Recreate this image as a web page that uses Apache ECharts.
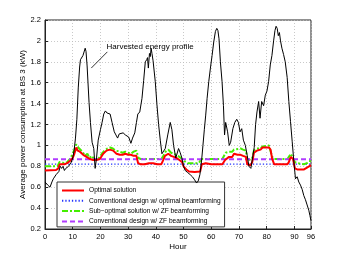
<!DOCTYPE html>
<html>
<head>
<meta charset="utf-8">
<script src="https://cdn.jsdelivr.net/npm/echarts@6/dist/echarts.min.js"></script>
<style>
html,body{margin:0;padding:0;background:#fff;}
#chart{width:343px;height:258px;}
</style>
</head>
<body>
<div id="chart"></div>
<script>
// ---- data ----
var xTickValues = [0, 10, 20, 30, 40, 50, 60, 70, 80, 90, 96];

var harvestHours = [0,1,1.8,2.5,3,4,5,5.5,6,6.5,7,7.5,8.5,9.5,10,10.5,11,11.5,12,12.5,12.8,13.3,13.7,14.0,14.5,14.8,15.2,15.9,16.4,17.0,17.6,18.1,18.6,19.2,20.0,20.6,21.2,21.8,22.4,23.0,23.5,24.2,25.0,25.6,26.2,26.8,27.4,28.2,29.0,29.6,30.2,31.0,31.6,32.4,33.0,33.5,34.2,35.0,35.6,36.2,36.7,37.0,37.3,37.7,38.0,38.3,38.6,39.0,39.8,40.4,41.0,41.6,42.2,42.8,43.4,44.3,45.2,45.8,46.4,47.2,48.2,48.8,49.4,50.0,50.6,51.5,52.4,53.2,54.0,54.7,55.3,55.9,56.5,57.0,57.5,58.0,58.5,59.1,59.7,60.3,60.9,61.5,62.0,62.4,62.8,63.3,63.9,64.4,64.8,65.2,65.9,66.5,67.0,67.8,68.5,69.2,69.8,70.4,71.0,71.6,72.3,73.0,73.6,74.3,75.0,75.5,76.0,76.5,77.1,77.6,78.2,78.9,79.5,80.1,80.7,81.3,81.9,82.5,83.0,83.4,83.8,84.2,84.6,85.0,85.5,86.1,86.7,87.4,88.0,88.6,89.2,89.8,90.4,91.0,91.6,92.2,92.8,93.4,94.0,94.6,95.2,95.6,96.0];
var harvestValues = [0.65,0.62,0.60,0.65,0.68,0.72,0.75,0.80,0.78,0.80,0.76,0.78,0.80,0.84,0.88,0.95,1.07,1.25,1.55,1.75,1.82,1.83,1.86,1.85,1.93,1.90,1.76,1.41,1.22,1.03,0.97,0.78,0.88,1.05,1.15,1.22,1.30,1.33,1.31,1.32,1.30,1.22,1.13,1.10,1.07,1.11,1.10,1.12,1.10,1.09,1.08,1.02,1.07,1.12,1.22,1.30,1.32,1.45,1.62,1.80,1.82,1.84,1.74,1.88,1.85,1.93,1.88,1.81,1.61,1.39,1.20,1.05,0.92,0.92,0.97,1.10,1.22,1.15,1.00,0.88,0.97,0.93,0.88,0.80,0.76,0.74,0.72,0.70,0.67,0.64,0.66,0.72,0.85,1.00,1.15,1.29,1.45,1.61,1.74,1.86,1.99,2.09,2.12,2.10,2.02,1.80,1.61,1.38,1.10,1.22,1.13,1.00,1.03,1.16,1.22,1.25,1.22,1.13,1.16,1.05,1.00,0.90,0.80,0.78,0.77,0.98,1.20,1.32,1.42,1.26,1.42,1.38,1.48,1.52,1.61,1.77,1.86,2.00,2.10,2.14,2.12,2.05,2.08,2.00,1.93,1.87,1.80,1.65,1.42,1.23,1.04,0.85,0.68,0.70,0.65,0.62,0.58,0.52,0.48,0.43,0.38,0.33,0.28];

var optHours = [0,4,4.8,5.3,6,7,8,9,10,10.6,11.3,11.8,12.6,13.8,15,16.2,17.4,18.6,19.8,21,22.2,23.4,24.6,25.8,27,28,29,30,31,32,33,33.6,34.5,36,37.5,39,40.5,42,42.5,43.3,44.5,45.5,46.5,47.5,48.5,49.5,50,51,52,54,56,56.6,58,60,62,64,65,66.4,67.6,68.2,69.5,70.6,71.5,72.5,73,74.2,74.8,75.4,76.5,77.8,78.5,80.8,81.4,82,82.7,87.5,88,88.7,89.5,90.2,91,93.5,94.1,95.3,96];
var optValues = [0.76,0.765,0.78,0.82,0.83,0.82,0.83,0.85,0.88,0.92,0.98,0.95,0.94,0.91,0.89,0.87,0.86,0.86,0.87,0.92,0.95,0.96,0.95,0.92,0.91,0.91,0.92,0.91,0.91,0.90,0.90,0.83,0.82,0.82,0.83,0.83,0.82,0.82,0.85,0.90,0.92,0.90,0.89,0.88,0.86,0.84,0.80,0.77,0.75,0.745,0.75,0.82,0.83,0.82,0.82,0.82,0.86,0.89,0.89,0.92,0.91,0.91,0.90,0.89,0.82,0.81,0.84,0.93,0.95,0.96,0.98,0.98,0.96,0.87,0.82,0.82,0.84,0.89,0.87,0.78,0.77,0.77,0.78,0.80,0.81];

var subHours = [0,4.5,5.2,6,7,8,9,10,10.6,11.3,12,12.6,13.5,14.5,15.3,16,17,17.8,18.5,19.5,20.5,21.5,22.5,23.5,24.5,25.5,27,28,29,30,31,32,33,33.7,34.5,42,42.5,43.5,44.5,45.5,46.5,48,49.5,50.3,51.5,55.5,56.5,64,65.2,66.4,67.6,68.2,70.6,71.5,72.5,73,74.2,74.8,75.4,76.5,77.8,78.5,80.8,81.4,82,82.7,87.5,88.7,89.5,90.2,91,93.5,94.5,95.3,96];
var subValues = [0.80,0.80,0.84,0.84,0.83,0.84,0.87,0.92,0.96,1.01,0.98,0.97,0.94,0.90,0.92,0.88,0.90,0.86,0.86,0.88,0.92,0.95,0.97,0.98,0.97,0.95,0.94,0.93,0.94,0.93,0.92,0.94,0.95,0.88,0.87,0.87,0.89,0.94,0.96,0.93,0.92,0.90,0.87,0.85,0.83,0.83,0.87,0.87,0.93,0.94,0.94,0.96,0.97,0.96,0.95,0.87,0.86,0.88,0.95,0.97,0.97,0.99,1.00,0.99,0.89,0.87,0.87,0.92,0.88,0.84,0.83,0.82,0.83,0.85,0.85];

var convHours = [0, 96];
var convOptValues = [0.82, 0.82];
var convZfValues = [0.867, 0.867];

var arrowFrom = [22.5, 1.895];
var arrowTo = [16.7, 1.74];
var labelAt = [22.2, 1.94];

var seriesNames = [
  'Optimal solution',
  'Conventional design w/ optimal beamforming',
  'Sub\u2212optimal solution w/ ZF beamforming',
  'Conventional design w/ ZF beamforming'
];

function zip(xs, ys) { return xs.map(function (x, i) { return [x, ys[i]]; }); }

var FONT = '"Liberation Sans", Arial, sans-serif';
var chart = echarts.init(document.getElementById('chart'), null, {renderer: 'canvas'});

chart.setOption({
  animation: false,
  backgroundColor: '#fff',
  textStyle: {fontFamily: FONT},
  grid: {left: 45, right: 32, top: 20, bottom: 29, show: true, borderColor: '#222', borderWidth: 1, backgroundColor: 'transparent'},
  xAxis: {
    type: 'value', min: 0, max: 96, interval: 10,
    name: 'Hour', nameLocation: 'middle', nameGap: 14, nameMoveOverlap: false,
    nameTextStyle: {fontSize: 8, color: '#000', fontFamily: FONT},
    axisLine: {show: true, lineStyle: {color: '#222', width: 1}},
    axisTick: {show: true, inside: true, length: 3, lineStyle: {color: '#222'}, customValues: xTickValues},
    axisLabel: {fontSize: 7.5, color: '#000', margin: 4, fontFamily: FONT, customValues: xTickValues},
    splitLine: {show: true, lineStyle: {color: '#bbb', type: [1, 2], width: 0.8}}
  },
  yAxis: {
    type: 'value', min: 0.2, max: 2.2, interval: 0.2,
    name: 'Average power consumption at BS 3 (kW)', nameLocation: 'middle', nameGap: 18, nameMoveOverlap: false,
    nameTextStyle: {fontSize: 8, color: '#000', fontFamily: FONT},
    axisLine: {show: true, lineStyle: {color: '#222', width: 1}},
    axisTick: {show: true, inside: true, length: 3, lineStyle: {color: '#222'}},
    axisLabel: {fontSize: 7.5, color: '#000', margin: 4, fontFamily: FONT,
      formatter: function (v) { return String(Math.round(v * 10) / 10); }},
    splitLine: {show: true, lineStyle: {color: '#bbb', type: [1, 2], width: 0.8}}
  },
  legend: {
    data: seriesNames,
    orient: 'vertical', left: 57, top: 182,
    padding: [5, 4, 2, 4], itemGap: 3.3, itemWidth: 22, itemHeight: 7,
    backgroundColor: '#fff', borderColor: '#333', borderWidth: 1,
    itemStyle: {opacity: 0},
    textStyle: {fontSize: 6.6, color: '#000', fontFamily: FONT},
    selectedMode: false
  },
  series: [
    {
      name: seriesNames[0], type: 'line', data: zip(optHours, optValues),
      symbol: 'none', z: 3,
      lineStyle: {color: '#ff0000', width: 2}, itemStyle: {color: '#ff0000'}
    },
    {
      name: seriesNames[1], type: 'line', data: zip(convHours, convOptValues),
      symbol: 'none', z: 2,
      lineStyle: {color: '#2233ff', width: 1.3, type: [1.3, 2]}, itemStyle: {color: '#2233ff'}
    },
    {
      name: seriesNames[2], type: 'line', data: zip(subHours, subValues),
      symbol: 'none', z: 2,
      lineStyle: {color: '#44ee00', width: 2, type: [6, 2, 2, 2]}, itemStyle: {color: '#44ee00'}
    },
    {
      name: seriesNames[3], type: 'line', data: zip(convHours, convZfValues),
      symbol: 'none', z: 2,
      lineStyle: {color: '#b03cff', width: 2, type: [5, 3]}, itemStyle: {color: '#b03cff'}
    },
    {
      name: 'Harvested energy profile', type: 'line', data: zip(harvestHours, harvestValues),
      symbol: 'none', z: 4,
      lineStyle: {color: '#000', width: 1}, itemStyle: {color: '#000'},
      markLine: {
        silent: true, symbol: ['none', 'arrow'], symbolSize: [0, 6],
        lineStyle: {color: '#000', width: 0.8, type: 'solid'},
        label: {show: false},
        data: [[{coord: arrowFrom}, {coord: arrowTo}]]
      },
      markPoint: {
        silent: true, symbol: 'circle', symbolSize: 0,
        label: {show: true, position: 'right', distance: 0, formatter: 'Harvested energy profile',
          fontSize: 8, color: '#000', fontFamily: FONT},
        data: [{coord: labelAt}]
      }
    }
  ]
});
</script>
</body>
</html>
